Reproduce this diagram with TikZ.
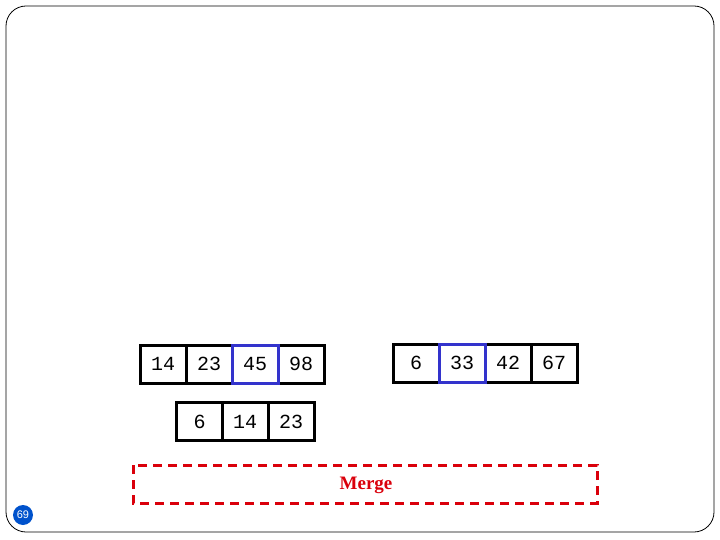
\documentclass[tikz,border=0pt]{standalone}
\usepackage{fontspec}
\newfontfamily\monof{Liberation Mono}
\newfontfamily\sansf{Liberation Sans}
\setmainfont{Liberation Serif}
\begin{document}
\begin{tikzpicture}[x=1pt,y=-1pt,
  cell/.style={draw=black,line width=3pt,minimum width=46pt,minimum height=38pt,inner sep=0pt,font=\monof\fontsize{20}{20}\selectfont},
  hcell/.style={cell,draw=blue!75!black!80!white},
  mergebox/.style={draw=red!80!purple!90!black,dashed,line width=3pt,dash pattern=on 9pt off 6pt}]
\useasboundingbox (0,0) rectangle (720,540);
\draw[rounded corners=20pt,line width=0.8pt] (6,6) rectangle (714,532);
% left array
\node[cell] (a1) at (163,364) {14};
\node[cell] (a2) at (209,364) {23};
\node[cell] (a4) at (301,364) {98};
\node[hcell] (a3) at (255,364) {45};
% right array
\node[cell] (b1) at (416,363) {6};
\node[cell] (b3) at (508,363) {42};
\node[cell] (b4) at (554,363) {67};
\node[hcell] (b2) at (462,363) {33};
% merged
\node[cell] (c1) at (199.5,421.5) {6};
\node[cell] (c2) at (245,421.5) {14};
\node[cell] (c3) at (291,421.5) {23};
% merge box
\draw[mergebox] (133,465) rectangle (597,503);
\node[font=\bfseries\fontsize{19}{19}\selectfont,text=red!80!purple!90!black] (m) at (366,485) {Merge};
% page number
\node[circle,fill=blue!60!cyan!80!black,minimum size=20pt,inner sep=0pt,text=white,font=\sansf\fontsize{11}{11}\selectfont] (p) at (23,515) {69};
\end{tikzpicture}
\end{document}
